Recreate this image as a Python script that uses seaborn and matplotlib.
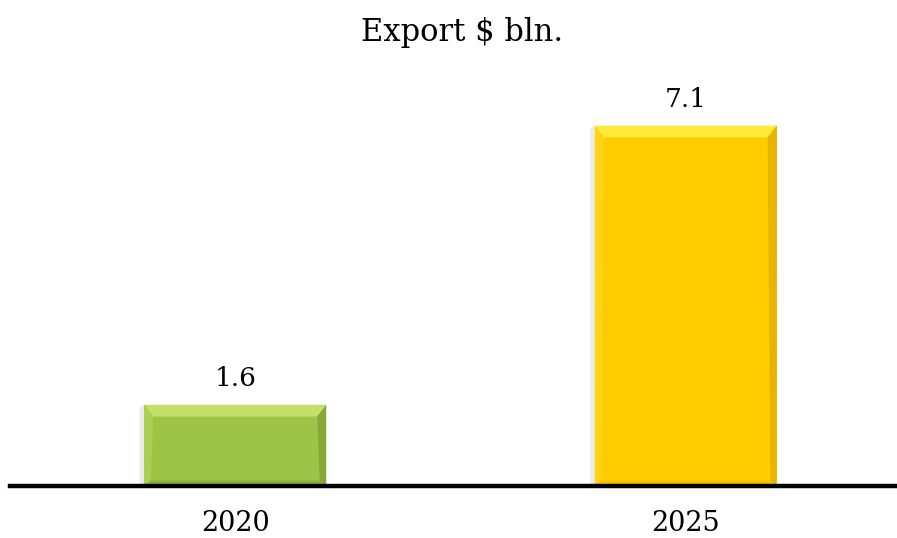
import matplotlib
matplotlib.use("Agg")
import matplotlib.pyplot as plt
import seaborn as sns
import pandas as pd
from matplotlib.patches import Polygon

years = ["2020", "2025"]
exports = [1.6, 7.1]
bar_colors = ["#9DC447", "#FFCC00"]
top_colors = ["#C4E066", "#FFEA38"]
side_dark = ["#86A83A", "#E8B400"]
side_light = ["#AACF52", "#FFD418"]
bottom_colors = ["#8CAE3E", "#F5C000"]

sns.set_theme(style="white")
plt.rcParams["font.family"] = ["DejaVu Serif"]
plt.rcParams["text.color"] = "black"
plt.rcParams["xtick.color"] = "black"

df = pd.DataFrame({"year": years, "export": exports})

fig = plt.figure(figsize=(8.97, 5.38), dpi=100)
ax = fig.add_axes([10/897, 52/538, 887/897, 406/538])
sns.barplot(data=df, x="year", y="export", hue="year", palette=bar_colors,
            width=0.404, legend=False, ax=ax, saturation=1, linewidth=0)
ax.set_xlim(-0.5, 1.469)
ax.set_ylim(0, 8.0)

# bevel decoration derived from each bar's geometry
fig.canvas.draw()
inv = ax.transData.inverted()
bx = 9  # bevel size in pixels
for i, p in enumerate(ax.patches):
    x0, y0 = p.get_x(), p.get_y()
    x1, y1 = x0 + p.get_width(), y0 + p.get_height()
    (px0, py0) = ax.transData.transform((x0, y0))
    dx = (inv.transform((px0 + bx, py0))[0] - x0)
    dy = (inv.transform((px0, py0 + bx))[1] - y0)
    sh = Polygon([(x0 - dx*0.5, y0), (x0 - dx*0.5, y1 - dy*0.3), (x0, y1), (x0, y0)],
                 closed=True, facecolor="#EBEBEB", edgecolor="none", zorder=1)
    ax.add_patch(sh)
    ax.add_patch(Polygon([(x0, y1), (x1, y1), (x1 - dx, y1 - dy*1.3), (x0 + dx, y1 - dy*1.3)],
                         closed=True, facecolor=top_colors[i], edgecolor="none", zorder=3))
    ax.add_patch(Polygon([(x1, y1), (x1, y0), (x1 - dx*0.7, y0), (x1 - dx, y1 - dy*1.3)],
                         closed=True, facecolor=side_dark[i], edgecolor="none", zorder=3))
    ax.add_patch(Polygon([(x0, y1), (x0, y0), (x0 + dx*0.7, y0), (x0 + dx, y1 - dy*1.3)],
                         closed=True, facecolor=side_light[i], edgecolor="none", zorder=3))
    ax.add_patch(Polygon([(x0, y0), (x1, y0), (x1 - dx*0.7, y0 + dy*0.6), (x0 + dx*0.7, y0 + dy*0.6)],
                         closed=True, facecolor=bottom_colors[i], edgecolor="none", zorder=3))
    ax.annotate(f"{exports[i]:.1f}", ((x0 + x1) / 2, y1), xytext=(0, 10),
                textcoords="offset points", ha="center", va="bottom", fontsize=19, color="black")

for s in ["top", "left", "right"]:
    ax.spines[s].set_visible(False)
ax.spines["bottom"].set_linewidth(3.2)
ax.spines["bottom"].set_color("black")
ax.spines["bottom"].set_zorder(5)
ax.set_yticks([])
ax.set_xlabel("")
ax.set_ylabel("")
ax.tick_params(axis="x", length=0, pad=17, labelsize=19.5, labelcolor="black")
fig.suptitle("Export $ bln.", x=0.515, y=0.968, fontsize=22, color="black")

fig.savefig("out.png", dpi=100, facecolor="white")
